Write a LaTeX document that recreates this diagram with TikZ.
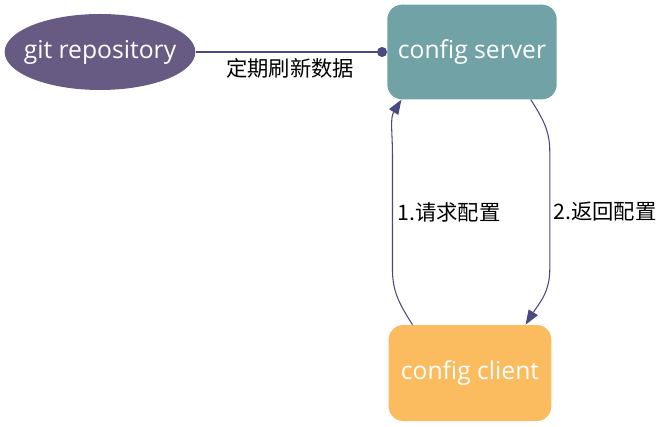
\documentclass[tikz,border=0pt]{standalone}
\usepackage{fontspec}
\setmainfont{Open Sans}
\newfontfamily\cjk{Noto Sans CJK SC}
\usetikzlibrary{arrows.meta,shapes.geometric}
\definecolor{repofill}{HTML}{675A83}
\definecolor{serverfill}{HTML}{71A2A6}
\definecolor{clientfill}{HTML}{FBBB5F}
\definecolor{linkcol}{HTML}{4A4A80}
\tikzset{
  box/.style={rectangle, rounded corners=11pt, minimum width=127pt, minimum height=71pt, text=white, font=\fontsize{18.5}{20}\selectfont},
  link/.style={draw=linkcol, line width=0.8pt},
  lbl/.style={font=\cjk\fontsize{16}{18}\selectfont, text=black}
}
\begin{document}
\begin{tikzpicture}[x=0.75pt,y=-0.75pt]
	\useasboundingbox (0,0) rectangle (663,427);
	\node[ellipse, fill=repofill, inner xsep=-15pt, inner ysep=0pt, minimum width=143pt, minimum height=57pt, text=white, font=\fontsize{18.5}{20}\selectfont] (repo) at (100,52) {git repository};
	\node[box, fill=serverfill] (server) at (472,52) {config server};
	\node[box, fill=clientfill, minimum width=122pt, minimum height=72pt] (client) at (470,373) {config client};
	% refresh
	\draw[link, -{Circle[length=7.5pt]}] (repo.east) -- (server.west);
	\node[lbl] (refresh) at (290,68) {定期刷新数据};
	% request and response
	\draw[link, -{Triangle[length=11pt,width=8pt]}] (client.140) to[out=122,in=-90] ++(-20,-55) -- ++(0,-115) to[out=90,in=238] (server.214.5);
	\draw[link, -{Triangle[length=11pt,width=8pt]}] (server.-39.3) to[out=-58,in=90] ++(19,52) -- ++(0,118) to[out=-90,in=58] (client.41.1);
	\node[lbl] (request) at (449,212) {1.请求配置};
	\node[lbl] (response) at (605,212) {2.返回配置};
\end{tikzpicture}
\end{document}
